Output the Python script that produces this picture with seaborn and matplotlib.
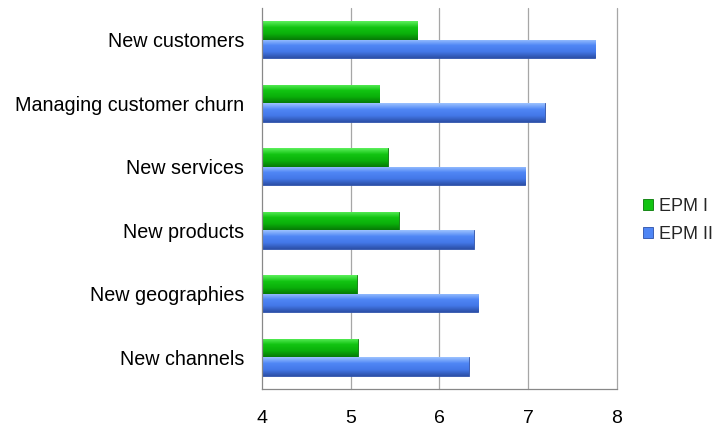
import numpy as np
import pandas as pd
import matplotlib
matplotlib.use("Agg")
import matplotlib.pyplot as plt
import seaborn as sns
from matplotlib.colors import LinearSegmentedColormap
from matplotlib.patches import Rectangle
from matplotlib.legend_handler import HandlerPatch

categories = ["New customers", "Managing customer churn", "New services",
              "New products", "New geographies", "New channels"]
epm1 = [5.75, 5.32, 5.42, 5.54, 5.07, 5.08]
epm2 = [7.76, 7.19, 6.97, 6.39, 6.44, 6.33]
series = ["EPM I", "EPM II"]
xticks = [4, 5, 6, 7, 8]

sns.set_theme(style="white")
plt.rcParams["font.family"] = ["Liberation Sans", "DejaVu Sans"]

df = pd.DataFrame({
    "category": categories * 2,
    "value": epm1 + epm2,
    "series": [series[0]] * len(categories) + [series[1]] * len(categories),
})

# light -> base -> dark shading for the bevelled bar look
shades = {
    "EPM I": ["#5cf05c", "#12c412", "#0ab00a", "#067a06"],
    "EPM II": ["#9cc2ff", "#4f86f5", "#4478e8", "#2c50a8"],
}
base = {"EPM I": "#12b812", "EPM II": "#4a80f0"}

fig = plt.figure(figsize=(7.18, 4.28), dpi=100)
ax = fig.add_axes([0.365, 0.091, 0.494, 0.890])

sns.barplot(data=df, y="category", x="value", hue="series", orient="h",
            palette=base, width=0.58, ax=ax, legend=False,
            order=categories, hue_order=series)

ax.set_xlim(4, 8)
ax.set_ylim(len(categories) - 0.5, -0.5)

# overlay a vertical gradient on every bar, clipped to the bar outline
for container, name in zip(ax.containers, series):
    cmap = LinearSegmentedColormap.from_list(name, shades[name])
    grad = np.linspace(0, 1, 64).reshape(-1, 1)
    for bar in container:
        x0, y0 = bar.get_x(), bar.get_y()
        w, h = bar.get_width(), bar.get_height()
        x0 = max(x0, 4)
        w = bar.get_x() + w - x0
        bar.set_x(x0)
        bar.set_width(w)
        bar.set_edgecolor(shades[name][3])
        bar.set_linewidth(0.6)
        im = ax.imshow(grad, cmap=cmap, aspect="auto",
                       extent=(x0, x0 + w, y0 + h, y0), zorder=bar.get_zorder() + 0.1,
                       interpolation="bilinear")
        im.set_clip_path(bar)

ax.set_xlim(4, 8)
ax.set_ylim(len(categories) - 0.5, -0.5)

ax.set_xlabel("")
ax.set_ylabel("")
ax.set_xticks(xticks)
ax.set_xticklabels([str(t) for t in xticks], fontsize=14)
ax.set_yticks(range(len(categories)))
ax.set_yticklabels(categories, fontsize=14.2)

# category boundary ticks on the y axis
ax.set_yticks(np.arange(-0.5, len(categories), 1), minor=True)
ax.tick_params(axis="y", which="major", length=0, pad=13)
ax.tick_params(axis="y", which="minor", length=5, color="#888888", width=0.8)
ax.tick_params(axis="x", which="major", length=6, color="#888888", width=0.8,
               direction="out", pad=9)
ax.tick_params(axis="both", colors="#888888", labelcolor="black")

for s in ["top", "right"]:
    ax.spines[s].set_visible(False)
for s in ["left", "bottom"]:
    ax.spines[s].set_color("#888888")
    ax.spines[s].set_linewidth(0.9)

for t in xticks[1:]:
    ax.axvline(t, color="#a6a6a6", linewidth=0.9, zorder=0, clip_on=False)
ax.set_axisbelow(True)


class GradientSquare(HandlerPatch):
    def __init__(self, cols):
        super().__init__()
        self.cols = cols

    def create_artists(self, legend, orig_handle, xdescent, ydescent,
                       width, height, fontsize, trans):
        size = 7.5
        x = xdescent + width - size
        y = ydescent + (height - size) / 2
        r = Rectangle((x, y), size, size, facecolor=self.cols[1],
                      edgecolor=self.cols[3], linewidth=0.6, transform=trans)
        return [r]


handles = [Rectangle((0, 0), 1, 1) for _ in series]
leg = fig.legend(handles, series, loc="center left", bbox_to_anchor=(0.895, 0.485),
                 frameon=False, fontsize=13, handlelength=0.6, handletextpad=0.3,
                 labelspacing=0.6, borderaxespad=0, borderpad=0,
                 handler_map={h: GradientSquare(shades[n]) for h, n in zip(handles, series)})

fig.savefig("out.png", dpi=100)
